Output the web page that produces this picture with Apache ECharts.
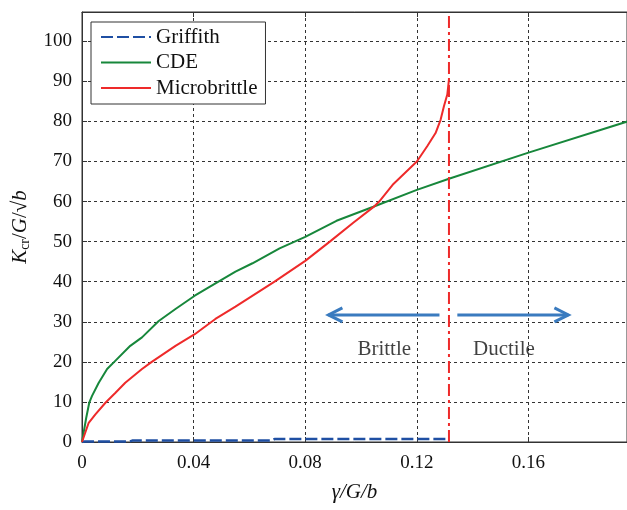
<!DOCTYPE html>
<html style="height: 100%">
<head>
    <meta charset="UTF-8">
    <title>Kcr vs gamma</title>
    <script type="text/javascript" src="https://cdn.jsdelivr.net/npm/echarts@6/dist/echarts.min.js"></script>
</head>
<body style="height: 100%; margin: 0; background: #fff">
    <div id="container" style="width: 627px; height: 510px"></div>
    <script type="text/javascript">
        // values, [gamma/G/b, Kcr/G/sqrt(b)]
        var griffith = [[0, 0], [0.001, 0.1], [0.017, 0.1], [0.018, 0.35], [0.068, 0.35], [0.069, 0.75], [0.1315, 0.75]];
        var cde = [[0, 0], [0.0015, 6], [0.0026, 9.8], [0.0036, 11.5], [0.006, 14.8], [0.009, 18.2], [0.012, 20.3],
            [0.0173, 24], [0.0215, 26.1], [0.0275, 30.2], [0.0335, 33.2], [0.0404, 36.5], [0.0454, 38.6],
            [0.055, 42.5], [0.0611, 44.6], [0.0708, 48.3], [0.08, 51.2], [0.0912, 55.2], [0.1044, 58.7],
            [0.12, 62.9], [0.1315, 65.7], [0.16, 72.2], [0.1956, 80]];
        var microbrittle = [[0, 0], [0.0024, 4.8], [0.0048, 6.9], [0.0084, 9.8], [0.012, 12.3], [0.0155, 14.8],
            [0.0215, 18.2], [0.025, 20], [0.0335, 24], [0.0404, 26.9], [0.0478, 30.7], [0.055, 33.8],
            [0.069, 40], [0.08, 45.2], [0.0888, 50], [0.0972, 54.7], [0.1044, 58.6], [0.1065, 60],
            [0.1116, 64.4], [0.12, 70], [0.1237, 73.8], [0.1267, 77.1], [0.1285, 80.4], [0.1297, 83.8],
            [0.1309, 86.7], [0.1315, 90.4]];
        var transitionLine = [[0.1315, 0], [0.1315, 107.3]];
        // arrows: [fromX, fromY, toX, toY]
        var arrows = [[0.1281, 31.7, 0.0883, 31.7], [0.1345, 31.7, 0.1743, 31.7]];
        var regionLabels = [{ name: 'Brittle', value: [0.1083, 23] }, { name: 'Ductile', value: [0.1512, 23] }];
        var xTicks = { min: 0, max: 0.1953, interval: 0.04 };
        var yTicks = { min: 0, max: 107.3, interval: 10 };

        var font = 'Liberation Serif';
        var ink = '#111';
        var myChart = echarts.init(document.getElementById('container'));

        var gridLine = { show: true, lineStyle: { color: '#333', width: 1, type: [3, 3] } };

        var option = {
            animation: false,
            textStyle: { fontFamily: font },
            grid: { left: 82, right: 0, top: 12, bottom: 68, show: true, borderColor: '#333', borderWidth: 1 },
            legend: {
                orient: 'vertical',
                left: 91, top: 22,
                padding: [4, 8, 5, 9],
                itemWidth: 50, itemHeight: 14, itemGap: 3.5,
                borderColor: '#333', borderWidth: 1, borderRadius: 0,
                backgroundColor: '#fff',
                itemStyle: { opacity: 0 },
                data: ['Griffith', 'CDE', 'Microbrittle'],
                textStyle: { fontFamily: font, fontSize: 21, color: ink, lineHeight: 22 }
            },
            xAxis: [{
                type: 'value',
                min: xTicks.min, max: xTicks.max, interval: xTicks.interval,
                name: 'γ/G/b',
                nameLocation: 'middle', nameGap: 40,
                nameTextStyle: { fontFamily: font, fontSize: 21, fontStyle: 'italic', color: ink },
                axisLine: { show: true, lineStyle: { color: '#333' } },
                axisTick: { inside: true, length: 5, lineStyle: { color: '#333' } },
                axisLabel: {
                    fontFamily: font, fontSize: 19, color: ink, margin: 12,
                    showMaxLabel: false,
                    formatter: function (v) { return v === 0 ? '0' : String(+v.toFixed(2)); }
                },
                splitLine: gridLine
            }, {
                type: 'value', position: 'top',
                min: xTicks.min, max: xTicks.max, interval: xTicks.interval,
                axisLine: { show: true, lineStyle: { color: '#333' } },
                axisTick: { inside: true, length: 5, lineStyle: { color: '#333' } },
                axisLabel: { show: false },
                splitLine: { show: false }
            }],
            yAxis: {
                type: 'value',
                min: yTicks.min, max: yTicks.max, interval: yTicks.interval,
                name: '{i|K}{sub|cr}{n|/}{i|G}{n|/√}{i|b}',
                nameLocation: 'middle', nameGap: 50,
                nameTextStyle: {
                    fontFamily: font, fontSize: 21, color: ink,
                    rich: {
                        i: { fontFamily: font, fontSize: 21, fontStyle: 'italic', color: ink },
                        n: { fontFamily: font, fontSize: 21, color: ink },
                        sub: { fontFamily: font, fontSize: 14, color: ink, padding: [9, 0, 0, 0] }
                    }
                },
                axisLine: { show: true, lineStyle: { color: '#333' } },
                axisTick: { inside: true, length: 5, lineStyle: { color: '#333' } },
                axisLabel: {
                    fontFamily: font, fontSize: 19, color: ink, margin: 10,
                    showMaxLabel: false,
                    formatter: function (v) { return v % 10 === 0 ? String(v) : ''; }
                },
                splitLine: gridLine
            },
            series: [{
                name: 'Griffith', type: 'line', symbol: 'none', data: griffith,
                lineStyle: { color: '#1f4fa3', width: 2.5, type: [12, 4] },
                itemStyle: { color: '#1f4fa3' }
            }, {
                name: 'CDE', type: 'line', symbol: 'none', data: cde,
                lineStyle: { color: '#17873b', width: 2 },
                itemStyle: { color: '#17873b' }
            }, {
                name: 'Microbrittle', type: 'line', symbol: 'none', data: microbrittle,
                lineStyle: { color: '#ee2a2a', width: 2 },
                itemStyle: { color: '#ee2a2a' }
            }, {
                name: 'transition', type: 'line', symbol: 'none', silent: true, data: transitionLine,
                lineStyle: { color: '#ee2a2a', width: 2, type: [12, 4, 3, 4] }
            }, {
                name: 'arrows', type: 'custom', silent: true, data: arrows,
                renderItem: function (params, api) {
                    var p1 = api.coord([api.value(0), api.value(1)]);
                    var p2 = api.coord([api.value(2), api.value(3)]);
                    var d = p2[0] > p1[0] ? 1 : -1;
                    var style = { stroke: '#3a7bbf', lineWidth: 3, fill: null };
                    return {
                        type: 'group',
                        children: [{
                            type: 'line',
                            shape: { x1: p1[0], y1: p1[1], x2: p2[0], y2: p2[1] },
                            style: style
                        }, {
                            type: 'polyline',
                            shape: { points: [[p2[0] - d * 14, p2[1] - 7], [p2[0], p2[1]], [p2[0] - d * 14, p2[1] + 7]] },
                            style: style
                        }]
                    };
                }
            }, {
                name: 'regions', type: 'scatter', silent: true, symbolSize: 0, data: regionLabels,
                label: {
                    show: true, position: 'inside', formatter: '{b}',
                    fontFamily: font, fontSize: 21, color: ink
                }
            }]
        };

        myChart.setOption(option);
    </script>
</body>
</html>
